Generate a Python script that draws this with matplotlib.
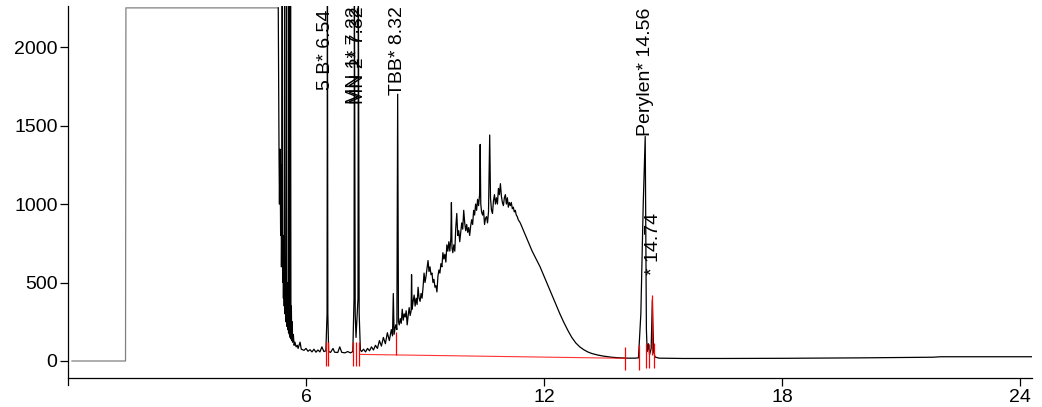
import matplotlib
matplotlib.use('Agg')
import matplotlib.pyplot as plt

plt.rcParams['font.family'] = ['Liberation Sans', 'DejaVu Sans']

# chromatogram trace, split in pieces (retention time in min, signal)
# overloaded solvent front
lead_t = [0.10, 1.45, 1.46, 5.30]
lead_v = [0, 0, 2250, 2250]

# solvent tail
solv_t = [5.30, 5.32, 5.33, 5.345, 5.36, 5.37, 5.38, 5.39, 5.40, 5.41, 5.42, 5.43,
          5.44, 5.45, 5.46, 5.47, 5.48, 5.49, 5.50, 5.51, 5.52, 5.53, 5.54, 5.55,
          5.56, 5.57, 5.58, 5.59, 5.60, 5.61, 5.62, 5.63, 5.64, 5.65, 5.66, 5.68,
          5.70, 5.72, 5.75, 5.78, 5.80]
solv_v = [2250, 1300, 1000, 1350, 800, 1250, 600, 900, 2400, 500, 800, 400,
          700, 350, 2400, 300, 650, 250, 550, 2400, 220, 500, 200, 450,
          180, 2400, 170, 400, 150, 2400, 140, 350, 130, 250, 120, 170,
          100, 120, 90, 100, 80]

# baseline with the 5 B* and MN peaks, start of the hump
base1_t = [5.85, 5.88, 5.95, 6.00, 6.05, 6.10, 6.15, 6.20, 6.25, 6.30, 6.35, 6.40,
           6.45, 6.50, 6.53, 6.54, 6.55, 6.57, 6.62, 6.68, 6.72, 6.80, 6.85, 6.90,
           6.98, 7.05, 7.12, 7.18, 7.21, 7.22, 7.24, 7.26, 7.31, 7.32, 7.34, 7.37,
           7.40, 7.45, 7.50, 7.55, 7.60, 7.65, 7.70, 7.75, 7.80, 7.85, 7.90, 7.95,
           8.00, 8.05, 8.10, 8.15, 8.18, 8.20, 8.22, 8.26, 8.29, 8.31, 8.33]
base1_v = [120, 75, 68, 80, 62, 72, 58, 75, 56, 70, 58, 90,
           60, 65, 300, 2400, 300, 60, 55, 80, 56, 54, 90, 55,
           52, 60, 52, 60, 400, 2400, 300, 150, 400, 2400, 300, 70,
           60, 75, 58, 80, 65, 90, 70, 100, 80, 130, 95, 150,
           110, 180, 130, 200, 160, 430, 170, 230, 200, 1700, 250]

# unresolved hump
hump_t = [8.350, 8.375, 8.400, 8.425, 8.450, 8.475, 8.500, 8.525, 8.550, 8.575,
          8.600, 8.625, 8.650, 8.660, 8.675, 8.700, 8.725, 8.750, 8.775, 8.800,
          8.825, 8.850, 8.875, 8.900, 8.925, 8.950, 8.975, 9.000, 9.025, 9.050,
          9.075, 9.100, 9.125, 9.150, 9.175, 9.200, 9.225, 9.250, 9.275, 9.300,
          9.325, 9.350, 9.375, 9.400, 9.425, 9.450, 9.475, 9.500, 9.525, 9.550,
          9.575, 9.600, 9.625, 9.650, 9.665, 9.680, 9.700, 9.725, 9.750, 9.775,
          9.800, 9.825, 9.850, 9.875, 9.900, 9.925, 9.950, 9.975, 10.000, 10.025,
          10.050, 10.075, 10.100, 10.125, 10.150, 10.175, 10.200, 10.225, 10.250, 10.275,
          10.300, 10.325, 10.350, 10.375, 10.390, 10.405, 10.425, 10.450, 10.475, 10.500,
          10.525, 10.550, 10.575, 10.600, 10.630, 10.650, 10.675, 10.700, 10.725, 10.750,
          10.775, 10.800, 10.825, 10.850, 10.875, 10.900, 10.925, 10.950, 10.975, 11.000,
          11.025, 11.050, 11.075, 11.100, 11.125, 11.150, 11.175, 11.200, 11.225, 11.250,
          11.275, 11.300, 11.325, 11.350, 11.375, 11.400]
hump_v = [230, 270, 240, 330, 260, 300, 280, 320, 230, 290,
          340, 290, 320, 550, 330, 380, 420, 350, 400, 360,
          470, 400, 380, 430, 400, 470, 560, 500, 540, 590,
          640, 570, 600, 550, 560, 500, 520, 470, 480, 440,
          540, 580, 560, 620, 600, 690, 650, 680, 630, 740,
          700, 760, 700, 780, 1010, 720, 690, 740, 700, 850,
          940, 800, 830, 760, 820, 880, 840, 960, 880, 830,
          870, 820, 850, 800, 860, 900, 870, 960, 930, 1000,
          960, 1030, 990, 1060, 1380, 1000, 950, 930, 960, 870,
          910, 920, 880, 950, 1440, 1040, 960, 940, 1020, 1060,
          1000, 1040, 1000, 1100, 1060, 1130, 1050, 1010, 990, 1040,
          1060, 1000, 1040, 980, 1010, 990, 1010, 970, 980, 950,
          960, 930, 920, 900, 890, 880]

# falling flank, Perylen peaks and late baseline
tail_t = [11.45, 11.50, 11.55, 11.60, 11.65, 11.70, 11.80, 11.90, 12.00, 12.10,
          12.20, 12.30, 12.40, 12.50, 12.60, 12.70, 12.80, 12.90, 13.00, 13.10,
          13.20, 13.35, 13.50, 13.70, 13.90, 14.10, 14.30, 14.38, 14.44, 14.50,
          14.55, 14.58, 14.60, 14.63, 14.66, 14.70, 14.73, 14.76, 14.80, 14.90,
          15.50, 16.50, 18.00, 20.00, 21.80, 22.00, 24.30]
tail_v = [850, 820, 790, 760, 730, 700, 650, 600, 540, 480,
          420, 360, 300, 245, 195, 150, 115, 90, 72, 58,
          48, 38, 31, 24, 20, 18, 18, 20, 300, 1000,
          1430, 200, 60, 110, 40, 80, 390, 60, 25, 18,
          16, 16, 17, 20, 24, 27, 27]

# integration baseline
base_t = [7.36, 14.08]
base_v = [42, 17]

# peak start / end markers
marker_t = [6.50, 6.55, 7.18, 7.26, 7.34, 8.28, 14.05, 14.39, 14.58, 14.65, 14.71, 14.78]
marker_lo = [-32, -32, -35, -35, -35, 38, -57, -57, -45, -45, 38, -45]
marker_hi = [121, 121, 120, 120, 120, 187, 91, 102, 115, 110, 420, 115]

# peak labels
label_text = ['5 B* 6.54', 'MN 1* 7.22', 'MN 2* 7.32', 'TBB* 8.32', 'Perylen* 14.56', '* 14.74']
label_t = [6.50, 7.22, 7.32, 8.30, 14.56, 14.77]
label_v = [1726, 1635, 1635, 1694, 1433, 548]

fig = plt.figure(figsize=(10.42, 4.07), dpi=100)
ax = fig.add_axes([68 / 1042, 1 - 385 / 407, 964 / 1042, 379 / 407])

ax.plot(lead_t, lead_v, color='#808080', lw=0.9)
trace_t = solv_t + base1_t + hump_t + tail_t
trace_v = solv_v + base1_v + hump_v + tail_v
ax.plot(trace_t, trace_v, color='black', lw=0.9)
ax.plot(base_t, base_v, color='red', lw=0.8, alpha=0.8)
ax.vlines(marker_t, marker_lo, marker_hi, color='red', lw=0.9)

for txt, t, v in zip(label_text, label_t, label_v):
    ax.text(t, v, txt, rotation=90, ha='center', va='bottom', fontsize=14)

ax.set_xlim(0, 24.3)
ax.set_ylim(-153, 2262)
ax.set_xticks([6, 12, 18, 24])
ax.set_yticks([0, 500, 1000, 1500, 2000])
ax.spines['top'].set_visible(False)
ax.spines['right'].set_visible(False)
ax.spines['bottom'].set_position(('data', -110))
ax.tick_params(axis='both', labelsize=14, length=6, width=0.9, pad=1.5)
for s in ['left', 'bottom']:
    ax.spines[s].set_linewidth(0.9)

plt.savefig('out.png', dpi=100)
